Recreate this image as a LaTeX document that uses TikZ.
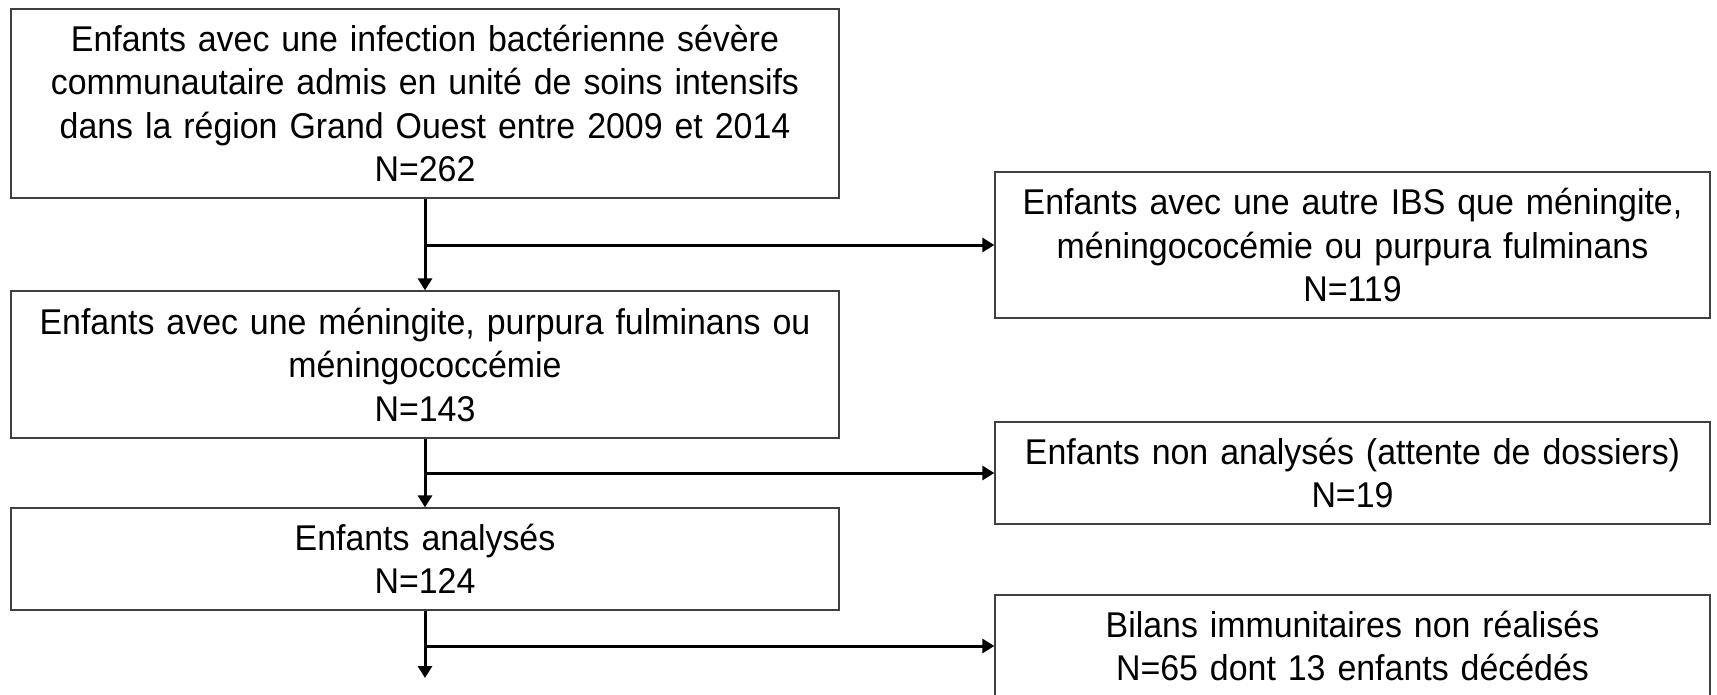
\documentclass[tikz,border=0pt]{standalone}
\usepackage{fontspec}
\setmainfont{Liberation Sans}[FakeStretch=0.947]
\usetikzlibrary{arrows.meta}
\definecolor{boxline}{HTML}{404040}
\tikzset{
  flowbox/.style={draw=boxline, line width=1.3pt, align=center, inner sep=0pt,
    font=\fontsize{35.8}{43.5}\selectfont},
  leftbox/.style={flowbox, minimum width=828pt, text width=820pt},
  rightbox/.style={flowbox, minimum width=715pt, text width=707pt},
  flowarrow/.style={line width=3pt, -{Triangle[width=14pt,length=12pt]}}
}
\begin{document}
\begin{tikzpicture}[x=1pt,y=-1pt]
\useasboundingbox (0,0) rectangle (1717,694);
\clip (0,0) rectangle (1717,694);
\node[leftbox, minimum height=189pt] (A) at (425,103.5) {Enfants avec une infection bactérienne sévère\\communautaire admis en unité de soins intensifs\\dans la région Grand Ouest entre 2009 et 2014\\N=262};
\node[leftbox, minimum height=147pt] (B) at (425,364.5) {Enfants avec une méningite, purpura fulminans ou\\méningococcémie\\N=143};
\node[leftbox, minimum height=102pt] (C) at (425,559) {Enfants analysés\\N=124};
\node[rightbox, minimum height=146pt] (R1) at (1352.5,245) {Enfants avec une autre IBS que méningite,\\méningococémie ou purpura fulminans\\N=119};
\node[rightbox, minimum height=102pt] (R2) at (1352.5,473) {Enfants non analysés (attente de dossiers)\\N=19};
\node[rightbox, minimum height=102pt] (R3) at (1352.5,646) {Bilans immunitaires non réalisés\\N=65 dont 13 enfants décédés};
\coordinate (E) at (425,678);
\draw[flowarrow] (A.south) -- (B.north);
\draw[flowarrow] (A.south |- R1.west) -- (R1.west);
\draw[flowarrow] (B.south) -- (C.north);
\draw[flowarrow] (B.south |- R2.west) -- (R2.west);
\draw[flowarrow] (C.south) -- (E);
\draw[flowarrow] (C.south |- R3.west) -- (R3.west);
\end{tikzpicture}
\end{document}
